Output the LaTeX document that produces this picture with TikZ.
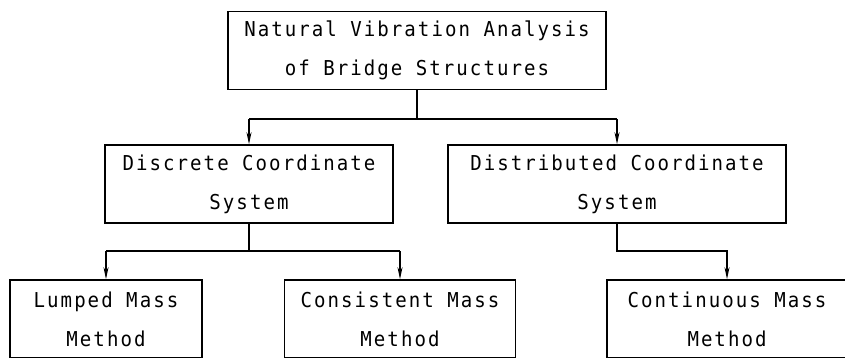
\documentclass[tikz,border=0pt]{standalone}
\usepackage{fontspec}
\newfontfamily\plotterfont[FakeStretch=0.93, LetterSpace=9.9]{DejaVu Sans Mono}
\usetikzlibrary{arrows.meta, positioning}
\tikzset{
	blockbox/.style={draw, line width=1.6pt, align=center, inner sep=0pt,
		minimum height=78pt, font=\plotterfont\fontsize{20.5}{39}\selectfont}
}
\tikzset{
	link/.style={line width=1.4pt},
	linkarrow/.style={link, -{Stealth[length=12pt,width=5pt]}}
}

\begin{document}
\begin{tikzpicture}[x=1pt, y=-1pt]
      \useasboundingbox (0,0) rectangle (845,357);
      % boxes
      \node[blockbox, minimum width=378pt] (nva) at (417,50.5) {Natural Vibration Analysis\\of Bridge Structures};
      \node[blockbox, minimum width=288pt] (disc) at (249,184) {Discrete Coordinate\\System};
      \node[blockbox, minimum width=338pt] (dist) at (617,184) {Distributed Coordinate\\System};
      \node[blockbox, minimum width=192pt] (lump) at (106,319) {Lumped Mass\\Method};
      \node[blockbox, minimum width=231pt] (cons) at (400,319) {Consistent Mass\\Method};
      \node[blockbox, minimum width=240pt] (cont) at (727,319) {Continuous Mass\\Method};
      % junction levels
      \coordinate (bus1) at (417,119);
      \coordinate (bus2) at (249,251);
      % connectors
      \draw[link] (nva.south) -- (bus1);
      \draw[link] (disc.north |- bus1) -- (dist.north |- bus1);
      \draw[linkarrow] (disc.north |- bus1) -- (disc.north);
      \draw[linkarrow] (dist.north |- bus1) -- (dist.north);
      \draw[link] (disc.south) -- (bus2);
      \draw[link] (lump.north |- bus2) -- (cons.north |- bus2);
      \draw[linkarrow] (lump.north |- bus2) -- (lump.north);
      \draw[linkarrow] (cons.north |- bus2) -- (cons.north);
      \draw[linkarrow] (dist.south) -- (dist.south |- bus2) -| (cont.north);
    \end{tikzpicture}
\end{document}
